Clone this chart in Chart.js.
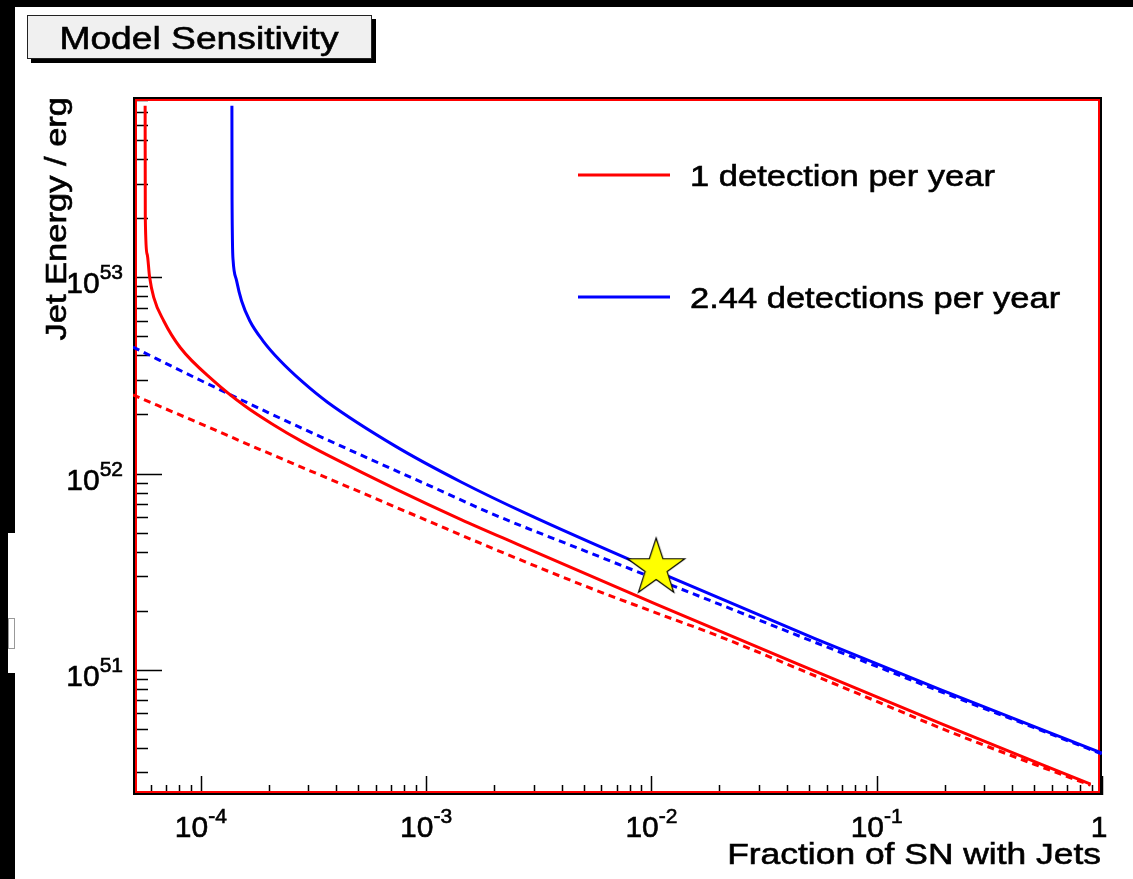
<!DOCTYPE html>
<html>
<head>
<meta charset="utf-8">
<title>Model Sensitivity</title>
<script src="https://cdn.jsdelivr.net/npm/chart.js"></script>
<style>
  html, body { margin: 0; padding: 0; background: #000; overflow: hidden; }
  #wrap { width: 1133px; height: 879px; }
</style>
</head>
<body>
<div id="wrap"><canvas id="myChart" width="1133" height="879"></canvas></div>
<script>
// values (log-log axes)
const redSolidX = [5.66e-5, 5.67e-5, 5.78e-5, 5.92e-5, 6.18e-5, 6.84e-5, 8.1e-5, 1.14e-4, 1.57e-4, 2.09e-4, 2.83e-4, 3.71e-4, 7.3e-4, 1.43e-3, 2.55e-3, 1.06e-2, 4.37e-2, 0.193, 0.89];
const redSolidY = [7.5e53, 2.0e53, 1.31e53, 1.01e53, 7.91e52, 6.01e52, 4.39e52, 2.97e52, 2.21e52, 1.78e52, 1.45e52, 1.23e52, 8.36e51, 5.83e51, 4.36e51, 2.15e51, 1.08e51, 5.31e50, 2.61e50];

const blueSolidX = [1.374e-4, 1.376e-4, 1.391e-4, 1.441e-4, 1.516e-4, 1.649e-4, 1.887e-4, 2.235e-4, 2.83e-4, 3.65e-4, 7.3e-4, 1.43e-3, 2.82e-3, 1.0e-2, 5.32e-2, 0.193, 1];
const blueSolidY = [7.5e53, 2.5e53, 1.22e53, 9.62e52, 7.6e52, 6.01e52, 4.75e52, 3.79e52, 2.93e52, 2.31e52, 1.38e52, 9.06e51, 6.21e51, 3.26e51, 1.44e51, 7.89e50, 3.76e50];

const redDashX = [5e-5, 1e-4, 2e-4, 5e-4, 1e-3, 2e-3, 5e-3, 1e-2, 2e-2, 5e-2, 0.1, 0.2, 0.5, 0.89];
const redDashY = [2.52e52, 1.79e52, 1.27e52, 8.13e51, 5.79e51, 4.13e51, 2.69e51, 1.99e51, 1.48e51, 9.6e50, 6.9e50, 4.95e50, 3.3e50, 2.58e50];

const blueDashX = [5e-5, 1e-4, 2e-4, 5e-4, 1e-3, 2e-3, 5e-3, 1e-2, 2e-2, 5e-2, 0.1, 0.2, 0.5, 1];
const blueDashY = [4.41e52, 2.98e52, 2.04e52, 1.26e52, 8.83e51, 6.18e51, 4.06e51, 2.96e51, 2.16e51, 1.42e51, 1.04e51, 7.6e50, 5.07e50, 3.72e50];

const starX = [0.0105];
const starY = [3.3e51];

const seriesLabels = ["1 detection per year", "2.44 detections per year"];

const xTickValues = [1e-4, 1e-3, 1e-2, 1e-1, 1];
const xTickExp = ["-4", "-3", "-2", "-1", ""];
const yTickValues = [1e51, 1e52, 1e53];
const yTickExp = ["51", "52", "53"];

const xMin = 5e-5, xMax = 1;
const yMin = 2.3e50, yMax = 8.3e53;

const FONT = '"Liberation Sans", Arial, Helvetica, sans-serif';

function pts(xs, ys) {
    return xs.map((x, i) => ({ x: x, y: ys[i] }));
}

// text drawn a bit wider and heavier, like the original
function stretchText(ctx, s, x, y, size, align, sx) {
    ctx.save();
    ctx.translate(x, y);
    ctx.scale(sx, 1);
    ctx.font = size + "px " + FONT;
    ctx.textAlign = align;
    ctx.textBaseline = "alphabetic";
    ctx.fillStyle = "#000";
    ctx.strokeStyle = "#000";
    ctx.lineWidth = 0.6;
    ctx.fillText(s, 0, 0);
    ctx.strokeText(s, 0, 0);
    ctx.restore();
}

// "10" with raised exponent
function powerLabel(ctx, exp, x, y, align) {
    ctx.save();
    ctx.fillStyle = "#000";
    ctx.strokeStyle = "#000";
    ctx.lineWidth = 0.6;
    ctx.textAlign = "left";
    ctx.textBaseline = "alphabetic";
    ctx.font = "30px " + FONT;
    const wb = ctx.measureText("10").width;
    ctx.font = "21px " + FONT;
    const we = ctx.measureText(exp).width;
    const x0 = align === "right" ? x - wb - we : x - (wb + we) / 2;
    ctx.font = "30px " + FONT;
    ctx.fillText("10", x0, y);
    ctx.strokeText("10", x0, y);
    ctx.font = "21px " + FONT;
    ctx.fillText(exp, x0 + wb, y - 14);
    ctx.strokeText(exp, x0 + wb, y - 14);
    ctx.restore();
}

// star marker
const starImg = document.createElement("canvas");
starImg.width = 66;
starImg.height = 66;
(function () {
    const c = starImg.getContext("2d");
    const R = 30, r = 11.6, cx = 33, cy = 33;
    c.beginPath();
    for (let i = 0; i < 10; i++) {
        const rad = i % 2 === 0 ? R : r;
        const a = -Math.PI / 2 + i * Math.PI / 5;
        const px = cx + rad * Math.cos(a), py = cy + rad * Math.sin(a);
        if (i === 0) c.moveTo(px, py); else c.lineTo(px, py);
    }
    c.closePath();
    c.fillStyle = "#ffff00";
    c.fill();
    c.strokeStyle = "#000";
    c.lineWidth = 1.2;
    c.stroke();
})();

const rootStyle = {
    id: "rootStyle",
    beforeDraw(chart) {
        const ctx = chart.ctx;
        ctx.save();
        ctx.fillStyle = "#000";
        ctx.fillRect(0, 0, chart.width, chart.height);
        ctx.fillStyle = "#fff";
        ctx.fillRect(15, 7, chart.width - 15, chart.height - 7);
        ctx.fillRect(8, 533, 7, 140);
        ctx.strokeStyle = "#999";
        ctx.lineWidth = 1;
        ctx.strokeRect(8.5, 618.5, 6, 30);
        // title box
        ctx.fillStyle = "#000";
        ctx.fillRect(31, 19, 345, 44);
        ctx.fillStyle = "#f0f0f0";
        ctx.fillRect(27, 15, 345, 44);
        ctx.strokeStyle = "#222";
        ctx.strokeRect(27.5, 15.5, 344, 43);
        ctx.restore();
        stretchText(ctx, "Model Sensitivity", 199, 49, 31, "center", 1.2);
    },
    beforeDatasetsDraw(chart) {
        const { ctx, chartArea: a, scales } = chart;
        const xs = scales.x, ys = scales.y;
        ctx.save();
        ctx.strokeStyle = "#000";
        ctx.lineWidth = 1.5;
        ctx.beginPath();
        // y ticks, inside the frame
        for (let d = 50; d <= 53; d++) {
            for (let m = 1; m <= 9; m++) {
                const v = m * Math.pow(10, d);
                if (v < yMin || v > yMax) continue;
                const py = Math.round(ys.getPixelForValue(v)) + 0.5;
                const len = m === 1 ? 29 : 15;
                ctx.moveTo(a.left, py);
                ctx.lineTo(a.left + len, py);
            }
        }
        // x ticks
        for (let d = -5; d <= 0; d++) {
            for (let m = 1; m <= 9; m++) {
                const v = m * Math.pow(10, d);
                if (v <= xMin * 1.01 || v > xMax * 1.001) continue;
                const px = Math.round(xs.getPixelForValue(v)) + 0.5;
                const len = m === 1 ? 19 : 10;
                ctx.moveTo(px, a.bottom);
                ctx.lineTo(px, a.bottom - len);
            }
        }
        ctx.stroke();
        // frame: black outside, red inside
        ctx.lineWidth = 2;
        ctx.strokeStyle = "#000";
        ctx.strokeRect(a.left + 1, a.top + 1, a.right - a.left - 2, a.bottom - a.top - 2);
        ctx.strokeStyle = "#ff0000";
        ctx.strokeRect(a.left + 3, a.top + 3, a.right - a.left - 6, a.bottom - a.top - 6);
        ctx.restore();
    },
    afterDraw(chart) {
        const { ctx, chartArea: a, scales } = chart;
        const xs = scales.x, ys = scales.y;
        // tick labels
        xTickValues.forEach((v, i) => {
            const px = xs.getPixelForValue(v);
            if (xTickExp[i] === "") {
                stretchText(ctx, "1", px - 3, 837, 30, "center", 1);
            } else {
                powerLabel(ctx, xTickExp[i], px, 837, "center");
            }
        });
        yTickValues.forEach((v, i) => {
            const py = ys.getPixelForValue(v);
            powerLabel(ctx, yTickExp[i], a.left - 10, py + 16, "right");
        });
        // axis titles
        stretchText(ctx, "Fraction of SN with Jets", a.right - 1, 864, 30, "right", 1.18);
        ctx.save();
        ctx.translate(66, 97);
        ctx.rotate(-Math.PI / 2);
        stretchText(ctx, "Jet Energy / erg", 0, 0, 30, "right", 1.15);
        ctx.restore();
        // legend
        const legendY = [175, 297];
        const items = chart.data.datasets.filter(d => d.label);
        items.forEach((d, i) => {
            const ly = legendY[i];
            ctx.save();
            ctx.strokeStyle = d.borderColor;
            ctx.lineWidth = 3;
            ctx.beginPath();
            ctx.moveTo(578, ly);
            ctx.lineTo(670, ly);
            ctx.stroke();
            ctx.restore();
            stretchText(ctx, d.label, 690, ly + 11, 30, "left", 1.15);
        });
    }
};

const data = {
    datasets: [
        {
            label: seriesLabels[0],
            data: pts(redSolidX, redSolidY),
            borderColor: "rgb(255, 0, 0)",
            borderWidth: 3,
            pointRadius: 0,
            cubicInterpolationMode: "monotone",
            order: 2,
        },
        {
            label: seriesLabels[1],
            data: pts(blueSolidX, blueSolidY),
            borderColor: "rgb(0, 0, 255)",
            borderWidth: 3,
            pointRadius: 0,
            cubicInterpolationMode: "monotone",
            order: 1,
        },
        {
            label: "",
            data: pts(redDashX, redDashY),
            borderColor: "rgb(255, 0, 0)",
            borderWidth: 3,
            borderDash: [7, 5],
            pointRadius: 0,
            cubicInterpolationMode: "monotone",
            order: 4,
        },
        {
            label: "",
            data: pts(blueDashX, blueDashY),
            borderColor: "rgb(0, 0, 255)",
            borderWidth: 3,
            borderDash: [7, 5],
            pointRadius: 0,
            cubicInterpolationMode: "monotone",
            order: 3,
        },
        {
            label: "",
            data: pts(starX, starY),
            showLine: false,
            pointStyle: starImg,
            pointRadius: 30,
            borderColor: "#000",
            order: 0,
        },
    ],
};

const config = {
    type: "line",
    data: data,
    options: {
        responsive: false,
        animation: false,
        devicePixelRatio: 1,
        layout: { padding: { left: 133, top: 97, right: 25, bottom: 84 } },
        plugins: { legend: { display: false }, tooltip: { enabled: false } },
        scales: {
            x: { type: "logarithmic", min: xMin, max: xMax, display: false },
            y: { type: "logarithmic", min: yMin, max: yMax, display: false },
        },
    },
    plugins: [rootStyle],
};

const myChart = new Chart(document.getElementById("myChart"), config);
</script>
</body>
</html>
